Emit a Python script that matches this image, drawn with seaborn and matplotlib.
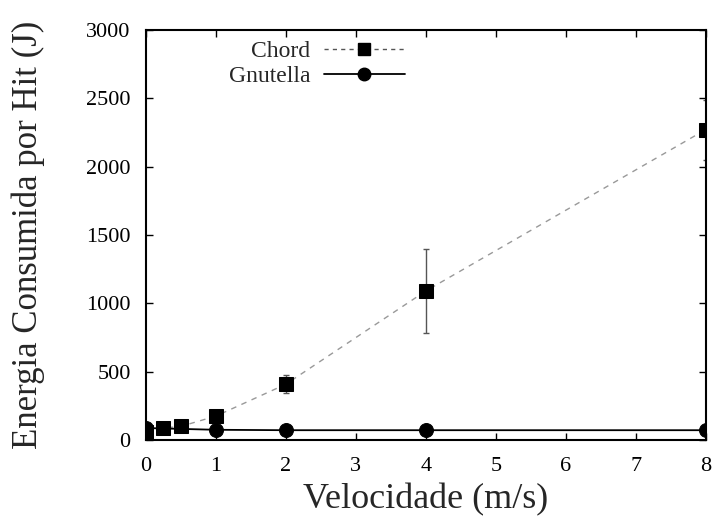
import numpy as np
import pandas as pd
import seaborn as sns
import matplotlib
matplotlib.use("Agg")
import matplotlib.pyplot as plt
from matplotlib.lines import Line2D

# Data
chord_x = [0, 0.25, 0.5, 1, 2, 4, 8]
chord_y = [60, 88, 100, 175, 408, 1090, 2270]
chord_err = [15, 15, 20, 25, 65, 310, 220]
gnut_x = [0, 1, 2, 4, 8]
gnut_y = [88, 75, 72, 72, 72]
gnut_err = [5, 5, 5, 5, 5]
xticks = [0, 1, 2, 3, 4, 5, 6, 7, 8]
yticks = [0, 500, 1000, 1500, 2000, 2500, 3000]

sns.set_theme(style="ticks")
plt.rcParams['font.family'] = ['Liberation Serif', 'DejaVu Serif']
plt.rcParams['mathtext.fontset'] = 'stix'

fig = plt.figure(figsize=(7.15, 5.22), dpi=100)
ax = fig.add_axes([0.204, 0.157, 0.783, 0.786])

df_c = pd.DataFrame({"x": chord_x, "y": chord_y})
df_g = pd.DataFrame({"x": gnut_x, "y": gnut_y})

ax.errorbar(chord_x, chord_y, yerr=chord_err, fmt='none', ecolor='#555555',
            elinewidth=1, capsize=2, zorder=2)
ax.errorbar(gnut_x, gnut_y, yerr=gnut_err, fmt='none', ecolor='black',
            elinewidth=1, capsize=2, zorder=2)

sns.lineplot(data=df_c, x="x", y="y", ax=ax, color='#999999', linestyle=(0, (4, 4)),
             linewidth=1, marker='s', markersize=10, markerfacecolor='black',
             markeredgecolor='black', legend=False, zorder=3)
sns.lineplot(data=df_g, x="x", y="y", ax=ax, color='black', linestyle='-',
             linewidth=1.3, marker='o', markersize=10, markerfacecolor='black',
             markeredgecolor='black', legend=False, zorder=3)

ax.set_xlim(0, 8)
ax.set_ylim(0, 3000)
ax.set_xticks(xticks)
ax.set_yticks(yticks)
ax.tick_params(direction='in', top=True, right=True, length=5, width=1,
               labelsize=16, colors='black')
ax.tick_params(axis='x', pad=12)
ax.tick_params(axis='y', pad=11)
for s in ax.spines.values():
    s.set_visible(True)
    s.set_linewidth(1.5)
    s.set_color('black')

ax.set_xlabel("Velocidade (m/s)", fontsize=26, labelpad=5)
ax.set_ylabel("Energia Consumida por Hit (J)", fontsize=25)
ax.yaxis.set_label_coords(-0.18, 0.5)

handles = [
    Line2D([0], [0], color='#555555', linestyle=(0, (3, 3)), linewidth=1,
           marker='s', markersize=9, markerfacecolor='black', markeredgecolor='black'),
    Line2D([0], [0], color='black', linestyle='-', linewidth=1.3,
           marker='o', markersize=9, markerfacecolor='black', markeredgecolor='black'),
]
leg = ax.legend(handles, ["Chord", "Gnutella"], loc='upper right',
                bbox_to_anchor=(0.5, 1.025), frameon=False, markerfirst=False,
                fontsize=17, handlelength=3.4, handletextpad=0.6, labelspacing=0.15)

fig.savefig("out.png", dpi=100)
